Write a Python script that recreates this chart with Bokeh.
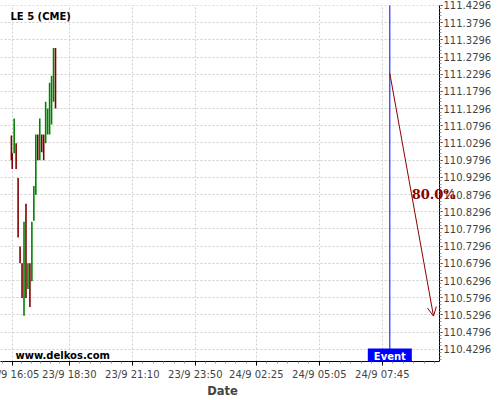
import pandas as pd
from bokeh.plotting import figure
from bokeh.models import (ColumnDataSource, FixedTicker, Label, Arrow,
                          OpenHead, Range1d, BoxAnnotation)
from bokeh.embed import file_html
from bokeh.resources import INLINE

# ---------------- data ----------------
bar_times = ["2023-09-23 16:03", "2023-09-23 16:05", "2023-09-23 16:10", "2023-09-23 16:15",
             "2023-09-23 16:20", "2023-09-23 16:25", "2023-09-23 16:30", "2023-09-23 16:35",
             "2023-09-23 16:40", "2023-09-23 16:45", "2023-09-23 16:50", "2023-09-23 16:55",
             "2023-09-23 17:00", "2023-09-23 17:05", "2023-09-23 17:10", "2023-09-23 17:15",
             "2023-09-23 17:20", "2023-09-23 17:25", "2023-09-23 17:30", "2023-09-23 17:35",
             "2023-09-23 17:40", "2023-09-23 17:45", "2023-09-23 17:50", "2023-09-23 17:55"]
bar_high = [111.0517, 110.9998, 111.1008, 111.0287, 110.9277, 110.7287, 110.6797, 110.8008,
            110.8527, 110.6797, 110.6797, 110.8008, 110.9047, 111.0546, 111.0546, 111.1008,
            111.0546, 111.0546, 111.1498, 111.1296, 111.2046, 111.2248, 111.3056, 111.3056]
bar_low = [110.9796, 110.9537, 110.9998, 110.9537, 110.7547, 110.6797, 110.5787, 110.5268,
           110.5787, 110.6047, 110.5528, 110.6278, 110.8037, 110.8787, 110.9796, 110.9796,
           111.0027, 110.9796, 111.0287, 111.0546, 111.0546, 111.0835, 111.1498, 111.1296]
bar_dir = ["down", "down", "up", "down", "down", "down", "down", "up",
           "down", "up", "down", "up", "up", "up", "down", "up",
           "down", "down", "up", "up", "up", "up", "up", "down"]

event_time = "2023-09-24 08:04"
arrow_end_time = "2023-09-24 09:55"
arrow_start_value = 111.232
arrow_end_value = 110.526
move_label = "80.0%"

x_tick_times = ["2023-09-23 16:05", "2023-09-23 18:30", "2023-09-23 21:10", "2023-09-23 23:50",
                "2023-09-24 02:25", "2023-09-24 05:05", "2023-09-24 07:45"]
x_tick_labels = ["23/9 16:05", "23/9 18:30", "23/9 21:10", "23/9 23:50",
                 "24/9 02:25", "24/9 05:05", "24/9 07:45"]
y_ticks = [round(110.4296 + 0.05 * k, 4) for k in range(21)]
x_start = "2023-09-23 15:35:18"
x_axis_end = "2023-09-24 10:10:12"     # where the price axis sits
x_canvas_end = "2023-09-24 12:45:06"
y_view = [110.3941, 111.4440]
y_axis_top = 111.4296

title_text = "LE 5 (CME)"
watermark = "www.delkos.com"
x_title = "Date"

# ---------------- helpers ----------------
def ms(s):
    return pd.Timestamp(s).value / 1e6

UP = "#008000"
DOWN = "#800000"
DARKRED = "#8b0000"
FONT = "DejaVu Sans"

src = ColumnDataSource(dict(
    t=[ms(s) for s in bar_times],
    hi=bar_high,
    lo=bar_low,
    c=[UP if d == "up" else DOWN for d in bar_dir],
))

p = figure(width=516, height=400, output_backend="svg", toolbar_location=None,
           x_axis_type="datetime", y_axis_location="right",
           x_range=Range1d(ms(x_start), ms(x_canvas_end)),
           y_range=Range1d(y_view[0], y_view[1]),
           min_border_left=16, min_border_right=0, min_border_top=0, min_border_bottom=36,
           background_fill_color="white", border_fill_color="white")
p.styles = {"position": "absolute", "left": "-16px", "top": "0px"}
p.outline_line_color = None

# grid first, then a white cover right of / above the price axis
for g in (p.xgrid, p.ygrid):
    g.grid_line_color = "#cfcfcf"
    g.grid_line_dash = "2 2"
p.add_layout(BoxAnnotation(left=ms(x_axis_end), fill_color="white", fill_alpha=1.0,
                           line_color=None, level="underlay"))
p.add_layout(BoxAnnotation(bottom=y_axis_top + 0.0005, fill_color="white", fill_alpha=1.0,
                           line_color=None, level="underlay"))

p.segment(x0="t", x1="t", y0="lo", y1="hi", line_color="c", line_width=1.6, source=src)

# x axis
xt = [ms(s) for s in x_tick_times]
minor = []
for a, b in zip(xt[:-1], xt[1:]):
    for k in range(1, 6):
        minor.append(a + (b - a) * k / 6)
step = xt[-1] - xt[-2]
for k in range(1, 6):
    minor.append(xt[-1] + step * k / 6)
    minor.append(xt[0] - (xt[1] - xt[0]) * k / 6)
p.xaxis.ticker = FixedTicker(ticks=xt, minor_ticks=minor)
p.xaxis.major_label_overrides = {t: l for t, l in zip(xt, x_tick_labels)}
p.xaxis.bounds = (ms(x_start), ms(x_axis_end))
# trailing no-break spaces move the centred word under the middle of the time axis
p.xaxis.axis_label = x_title + "\u00a0" * 14
p.xaxis.axis_label_text_font = FONT
p.xaxis.axis_label_text_font_style = "bold"
p.xaxis.axis_label_text_font_size = "11.5px"
p.xaxis.axis_label_standoff = 1
p.xaxis.major_label_text_font = FONT
p.xaxis.major_label_text_font_size = "10px"
p.xaxis.major_label_standoff = 3
p.xaxis.major_tick_in = 0
p.xaxis.major_tick_out = 4
p.xaxis.minor_tick_in = 0
p.xaxis.minor_tick_out = 2
p.xaxis.minor_tick_line_color = "#999999"
p.xaxis.axis_line_color = "black"

# y axis (price), pinned at the right end of the time axis
yminor = [round(110.4296 + 0.01 * k, 4) for k in range(-4, 101)]
p.yaxis.ticker = FixedTicker(ticks=y_ticks, minor_ticks=yminor)
p.yaxis.fixed_location = ms(x_axis_end)
p.yaxis.bounds = (y_view[0], y_axis_top)
p.yaxis.major_label_overrides = {v: f"{v:.4f}" for v in y_ticks}
p.yaxis.major_label_text_font = FONT
p.yaxis.major_label_text_font_size = "10px"
p.yaxis.major_label_standoff = 1
p.yaxis.major_tick_in = 0
p.yaxis.major_tick_out = 3
p.yaxis.minor_tick_in = 0
p.yaxis.minor_tick_out = 2
p.yaxis.minor_tick_line_color = "#999999"
p.yaxis.axis_line_color = "black"
p.xgrid.ticker = p.xaxis.ticker
p.ygrid.ticker = p.yaxis.ticker

# event
p.segment(x0=[ms(event_time)], x1=[ms(event_time)], y0=[y_view[0]], y1=[y_axis_top],
          line_color="blue", line_width=1)
p.add_layout(Label(x=ms(event_time), y=0, x_units="data", y_units="screen", text="Event",
                   text_align="center", text_baseline="bottom", text_color="white",
                   text_font=FONT, text_font_style="bold", text_font_size="10px",
                   background_fill_color="blue", padding=(6, 6, 2, 0)))

p.add_layout(Arrow(end=OpenHead(size=9, line_color=DARKRED, line_width=1),
                   x_start=ms(event_time), y_start=arrow_start_value,
                   x_end=ms(arrow_end_time), y_end=arrow_end_value,
                   line_color=DARKRED, line_width=1))
p.add_layout(Label(x=(ms(event_time) + ms(arrow_end_time)) / 2,
                   y=(arrow_start_value + arrow_end_value) / 2,
                   text=move_label, text_align="left", text_baseline="alphabetic",
                   text_color=DARKRED, text_font="DejaVu Serif", text_font_style="bold",
                   text_font_size="13px", level="overlay"))

p.add_layout(Label(x=10, y=345, x_units="screen", y_units="screen", text=title_text,
                   text_font=FONT, text_font_style="bold", text_font_size="10px",
                   text_baseline="alphabetic", text_color="black"))
p.add_layout(Label(x=15, y=6.5, x_units="screen", y_units="screen", text=watermark,
                   text_font=FONT, text_font_style="bold", text_font_size="10px",
                   text_baseline="alphabetic", text_color="black"))

open("out.html", "w").write(file_html(p, INLINE))
